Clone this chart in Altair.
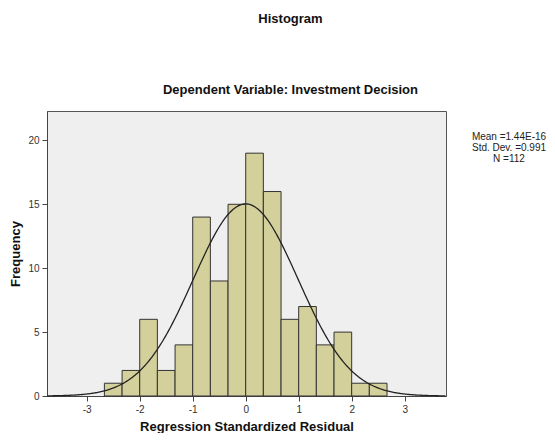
import altair as alt
import pandas as pd

# Histogram bins (width 1/3) and frequencies
bin_left = [-2.667, -2.333, -2.0, -1.667, -1.333, -1.0, -0.667, -0.333,
            0.0, 0.333, 0.667, 1.0, 1.333, 1.667, 2.0, 2.333]
bin_right = [-2.333, -2.0, -1.667, -1.333, -1.0, -0.667, -0.333, 0.0,
             0.333, 0.667, 1.0, 1.333, 1.667, 2.0, 2.333, 2.667]
freq = [1, 2, 6, 2, 4, 14, 9, 15, 19, 16, 6, 7, 4, 5, 1, 1]

# Summary statistics shown on chart
mean_val = 1.44e-16
std_val = 0.991
n_val = 112
bin_width = 1 / 3
stats_lines = ["Mean =1.44E-16", "Std. Dev. =0.991", "N =112"]

x_ticks = [-3, -2, -1, 0, 1, 2, 3]
y_ticks = [0, 5, 10, 15, 20]
x_domain = [-3.75, 3.78]
y_domain = [0, 22.3]

FONT = "Liberation Sans"

bars_df = pd.DataFrame({"left": bin_left, "right": bin_right, "freq": freq})

xscale = alt.Scale(domain=x_domain, nice=False, zero=False)
yscale = alt.Scale(domain=y_domain, nice=False)

xaxis = alt.Axis(values=x_ticks, title="Regression Standardized Residual", grid=False,
                 tickSize=5, labelFontSize=10, labelColor="#333333", titleFontSize=13,
                 titleFontWeight="bold", titleColor="#111111", titlePadding=6,
                 domainColor="#444444", tickColor="#444444", labelPadding=3,
                 labelExpr="'' + datum.value")
yaxis = alt.Axis(values=y_ticks, title="Frequency", grid=False,
                 tickSize=5, labelFontSize=10, labelColor="#333333", titleFontSize=13,
                 titleFontWeight="bold", titleColor="#111111", titlePadding=5,
                 domainColor="#444444", tickColor="#444444", labelPadding=3)

bars = alt.Chart(bars_df).mark_rect(
    color="#d4d09b", stroke="#333333", strokeWidth=1
).encode(
    x=alt.X("left:Q", scale=xscale, axis=xaxis),
    x2="right:Q",
    y=alt.Y("freq:Q", scale=yscale, axis=yaxis),
    y2=alt.datum(0),
)

curve = alt.Chart(
    alt.sequence(start=-3.75, stop=3.78, step=0.02, as_="x")
).transform_calculate(
    y=f"{n_val}*{bin_width}*exp(-pow(datum.x-{mean_val},2)/(2*{std_val}*{std_val}))/({std_val}*sqrt(2*PI))"
).mark_line(color="#222222", strokeWidth=1.3).encode(
    x=alt.X("x:Q", scale=xscale),
    y=alt.Y("y:Q", scale=yscale),
)

stat_layers = []
for i, line in enumerate(stats_lines):
    stat_layers.append(
        alt.Chart(pd.DataFrame({"txt": [line]})).mark_text(
            fontSize=10, font=FONT, color="#222222", align="center", baseline="middle"
        ).encode(
            text="txt:N",
            x=alt.value(462),
            y=alt.value(26 + 11 * i),
        )
    )

chart = alt.layer(bars, curve, *stat_layers).properties(
    width=399,
    height=285,
    autosize=alt.AutoSizeParams(type="none"),
    padding={"left": 39, "top": 103, "right": 101, "bottom": 37},
    background="white",
    title=alt.Title(
        "Histogram",
        subtitle="Dependent Variable: Investment Decision",
        anchor="middle",
        dx=44,
        offset=14,
        fontSize=13,
        font=FONT,
        fontWeight="bold",
        color="#111111",
        subtitleFont=FONT,
        subtitleFontSize=13,
        subtitleFontWeight="bold",
        subtitleColor="#111111",
        subtitlePadding=58,
    ),
).configure_view(
    fill="#efefef", stroke="#555555", strokeWidth=1
).configure_axis(
    labelFont=FONT, titleFont=FONT
)

chart.save("out.html", embed_options={"renderer": "svg", "actions": False})
